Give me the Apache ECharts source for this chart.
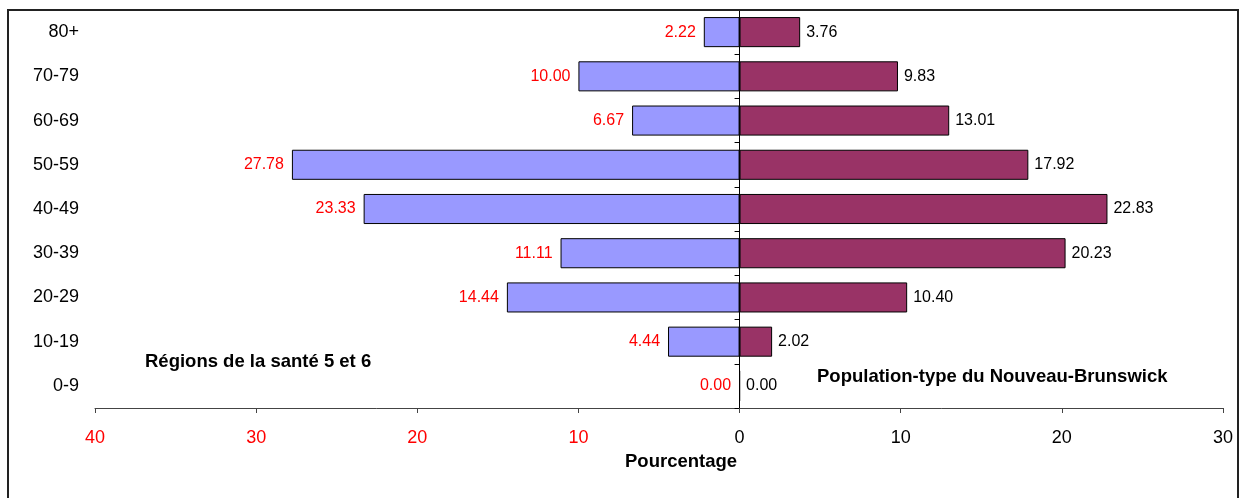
<!DOCTYPE html>
<html>
<head>
<meta charset="utf-8">
<script src="https://cdn.jsdelivr.net/npm/echarts@6/dist/echarts.min.js"></script>
<style>
html,body{margin:0;padding:0;background:#fff;}
#chart{width:1239px;height:498px;}
</style>
</head>
<body>
<div id="chart"></div>
<script>
const categories = ['0-9','10-19','20-29','30-39','40-49','50-59','60-69','70-79','80+'];
const regionValues = [0.00, 4.44, 14.44, 11.11, 23.33, 27.78, 6.67, 10.00, 2.22];
const nbValues = [0.00, 2.02, 10.40, 20.23, 22.83, 17.92, 13.01, 9.83, 3.76];
const xMin = -40, xMax = 30, xInterval = 10;
const regionLabel = 'Régions de la santé 5 et 6';
const nbLabel = 'Population-type du Nouveau-Brunswick';
const axisTitle = 'Pourcentage';

const FONT = 'Liberation Sans, Arial, sans-serif';
const chart = echarts.init(document.getElementById('chart'), null, {renderer: 'canvas'});

const option = {
  backgroundColor: '#ffffff',
  animation: false,
  textStyle: {fontFamily: FONT},
  grid: {left: 95, right: 16, top: 10, bottom: 90, containLabel: false},
  xAxis: {
    type: 'value', min: xMin, max: xMax, interval: xInterval,
    axisLine: {show: true, onZero: false, lineStyle: {color: '#444', width: 1}},
    axisTick: {show: true, length: 5, lineStyle: {color: '#444'}},
    splitLine: {show: false},
    axisLabel: {
      margin: 21, fontSize: 18, fontFamily: FONT, color: '#000',
      formatter: v => v < 0 ? '{r|' + Math.abs(v) + '}' : '' + v,
      rich: {r: {color: '#FF0000', fontSize: 18, fontFamily: FONT}}
    }
  },
  yAxis: [
    {
      type: 'category', data: categories, position: 'left',
      axisLine: {show: true, onZero: true, lineStyle: {color: '#000', width: 1}},
      axisTick: {show: true, length: 5, lineStyle: {color: '#000'}},
      axisLabel: {show: false},
      splitLine: {show: false}
    },
    {
      type: 'category', data: categories, position: 'left',
      axisLine: {show: false, onZero: false},
      axisTick: {show: false},
      axisLabel: {show: true, margin: 16, fontSize: 18, fontFamily: FONT, color: '#000'},
      splitLine: {show: false}
    }
  ],
  series: [
    {
      name: regionLabel, type: 'bar', yAxisIndex: 0,
      data: regionValues.map(v => -v),
      barCategoryGap: '32%', barGap: '-100%',
      itemStyle: {color: '#9999FF', borderColor: '#000', borderWidth: 1},
      label: {show: true, position: 'left', distance: 8, color: '#FF0000', fontSize: 16, fontFamily: FONT,
        formatter: p => Math.abs(p.value).toFixed(2)}
    },
    {
      name: nbLabel, type: 'bar', yAxisIndex: 0,
      data: nbValues,
      barCategoryGap: '32%', barGap: '-100%',
      itemStyle: {color: '#993366', borderColor: '#000', borderWidth: 1},
      label: {show: true, position: 'right', distance: 6, color: '#000', fontSize: 16, fontFamily: FONT,
        formatter: p => Number(p.value).toFixed(2)}
    }
  ],
  graphic: [
    {type: 'rect', shape: {x: 8, y: 10, width: 1230, height: 520}, style: {fill: 'none', stroke: '#222', lineWidth: 2}, silent: true, z: 100},
    {type: 'text', left: 145, top: 352, style: {text: regionLabel, font: 'bold 18.5px ' + FONT, fill: '#000'}},
    {type: 'text', left: 817, top: 367, style: {text: nbLabel, font: 'bold 18.5px ' + FONT, fill: '#000'}},
    {type: 'text', left: 625, top: 452, style: {text: axisTitle, font: 'bold 18.5px ' + FONT, fill: '#000'}}
  ]
};
chart.setOption(option);
</script>
</body>
</html>
